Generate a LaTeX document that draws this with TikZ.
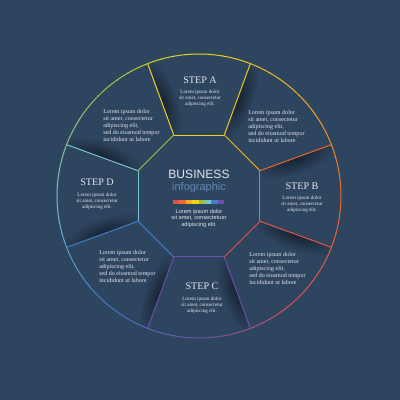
\documentclass[tikz,border=0pt]{standalone}
\usepackage{fontspec}
\setmainfont{Liberation Serif}
\setsansfont{Liberation Sans}
\usetikzlibrary{fadings}

\definecolor{bgblue}{HTML}{2E4560}
\definecolor{cyellow}{HTML}{F2D31B}
\definecolor{camber}{HTML}{F2AE21}
\definecolor{corange}{HTML}{EE6A2C}
\definecolor{cred}{HTML}{E3504B}
\definecolor{cpurple}{HTML}{6B4FA8}
\definecolor{cblue}{HTML}{4080CB}
\definecolor{clight}{HTML}{7BC3D3}
\definecolor{cgreen}{HTML}{98C43F}
\definecolor{cinfo}{HTML}{6585B5}
\definecolor{ctext}{HTML}{E4E6EA}

\tikzfading[name=softshade, inner color=transparent!50, outer color=transparent!100]

\begin{document}
\begin{tikzpicture}[x=0.025cm, y=0.025cm,
        seg/.style = {line width=0.7pt, line join=round},
        steptitle/.style = {text=ctext, font=\fontsize{7.2}{8}\selectfont, inner sep=0pt},
        steptext/.style = {text=ctext, align=center, font=\fontsize{3.6}{4.2}\selectfont, inner sep=0pt},
        lorem/.style = {text=ctext, align=left, anchor=west, font=\fontsize{4.3}{5}\selectfont, inner sep=0pt},
        bigword/.style = {font=\sffamily\fontsize{8.6}{9}\selectfont, inner sep=0pt},
        midtext/.style = {text=ctext, align=center, font=\sffamily\fontsize{4}{4.8}\selectfont, inner sep=0pt},
    ]
    \fill[bgblue] (-199,-204) rectangle (201,196);

    % octagon corners and spoke ends
    \foreach \k/\a in {0/21.2, 1/68.8, 2/111.2, 3/158.8, 4/201.2, 5/248.8, 6/291.2, 7/338.8} {
        \coordinate (v\k) at (22.5+45*\k:66);
        \coordinate (o\k) at (\a:142);
    }

    % soft shadows next to the spokes
    \foreach \k/\a in {0/21.2, 1/68.8, 2/111.2, 3/158.8, 4/201.2, 5/248.8, 6/291.2, 7/338.8} {
        \pgfmathsetmacro\dx{142*cos(\a)-66*cos(22.5+45*\k)}
        \pgfmathsetmacro\dy{142*sin(\a)-66*sin(22.5+45*\k)}
        \pgfmathsetmacro\ang{atan2(\dy,\dx)}
        \pgfmathsetmacro\len{veclen(\dx,\dy)}
        \begin{scope}[transform canvas={shift={(v\k)}, rotate=\ang}]
            \clip (0,0) rectangle (\len,-22);
            \fill[black, path fading=softshade] (0.5*\len,0) ellipse [x radius=0.6*\len, y radius=16];
        \end{scope}
    }

    % outer ring
    \foreach \ca/\cb [count=\i from 0] in {corange/camber, camber/cyellow, cyellow/cgreen, cgreen/clight, clight/cblue, cblue/cpurple, cpurple/cred, cred/corange}
        \foreach \j in {0,...,8} {
            \pgfmathtruncatemacro\p{100-(\j+0.5)*100/9}
            \draw[seg, \ca!\p!\cb] (\i*45+\j*5:142) arc[start angle=\i*45+\j*5, end angle=\i*45+\j*5+5.3, radius=142];
        }

    % spokes
    \draw[seg, corange] (v0) -- (o0);
    \draw[seg, cyellow!70!camber] (v1) -- (o1);
    \draw[seg, cyellow] (v2) -- (o2);
    \draw[seg, clight] (v3) -- (o3);
    \draw[seg, cblue] (v4) -- (o4);
    \draw[seg, cpurple] (v5) -- (o5);
    \draw[seg, cpurple] (v6) -- (o6);
    \draw[seg, cred!80!corange] (v7) -- (o7);

    % inner octagon
    \foreach \s/\e/\c in {v0/v1/camber, v1/v2/cyellow, v2/v3/cgreen, v3/v4/clight, v4/v5/cblue, v5/v6/cpurple, v6/v7/cred, v7/v0/corange}
        \draw[seg, \c] (\s) -- (\e);

    % steps
    \node[steptitle] (titleA) at (1,115.5) {STEP A};
    \node[steptext] (textA) at (1,98) {Lorem ipsum dolor\\sit amet, consectetur\\adipiscing elit.};
    \node[steptitle] (titleB) at (103,10) {STEP B};
    \node[steptext] (textB) at (103,-8.5) {Lorem ipsum dolor\\sit amet, consectetur\\adipiscing elit.};
    \node[steptitle] (titleC) at (3,-90) {STEP C};
    \node[steptext] (textC) at (3,-109) {Lorem ipsum dolor\\sit amet, consectetur\\adipiscing elit.};
    \node[steptitle] (titleD) at (-102,14) {STEP D};
    \node[steptext] (textD) at (-102,-5) {Lorem ipsum dolor\\sit amet, consectetur\\adipiscing elit.};

    % texts between the steps
    \node[lorem] (loremNW) at (-96,71) {Lorem ipsum dolor\\sit amet, consectetur\\adipiscing elit,\\sed do eiusmod tempor\\incididunt ut labore};
    \node[lorem] (loremNE) at (49,70) {Lorem ipsum dolor\\sit amet, consectetur\\adipiscing elit,\\sed do eiusmod tempor\\incididunt ut labore};
    \node[lorem] (loremSE) at (50,-72) {Lorem ipsum dolor\\sit amet, consectetur\\adipiscing elit,\\sed do eiusmod tempor\\incididunt ut labore};
    \node[lorem] (loremSW) at (-100,-70.5) {Lorem ipsum dolor\\sit amet, consectetur\\adipiscing elit,\\sed do eiusmod tempor\\incididunt ut labore};

    % middle
    \node[bigword, text=ctext] (business) at (0,22) {BUSINESS};
    \node[bigword, text=cinfo, font=\sffamily\fontsize{7.8}{9}\selectfont] (infog) at (0,8) {infographic};
    \foreach \c [count=\i from 0] in {cred, corange, camber, cyellow, cgreen, clight, cblue, cpurple}
        \fill[\c] (-26+6.375*\i,-4) rectangle (-26+6.375*\i+6.375,-8);
    \node[midtext] (midtext) at (0,-22.5) {Lorem ipsum dolor\\sit amet, consectetuer\\adipiscing elit.};
\end{tikzpicture}
\end{document}
